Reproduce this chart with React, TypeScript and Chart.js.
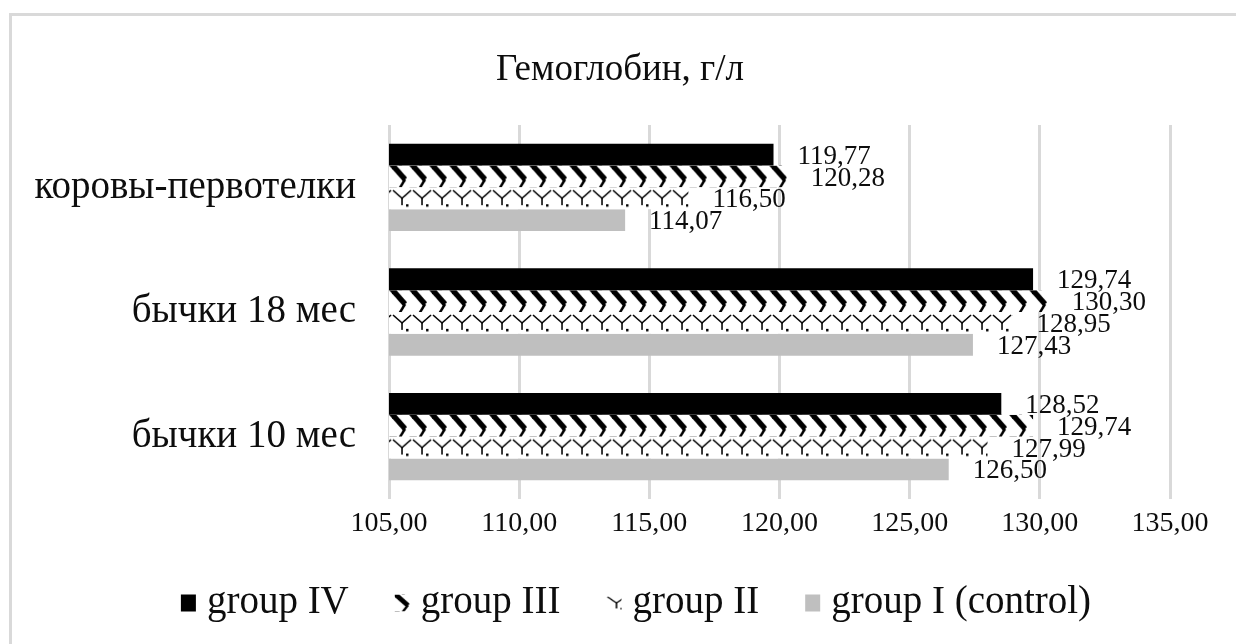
import { useEffect, useRef } from 'react';
import { Chart, registerables } from 'chart.js';

Chart.register(...registerables);

// ---- data ----
const categories = ['коровы-первотелки', 'бычки 18 мес', 'бычки 10 мес'];
const seriesNames = ['group IV', 'group III', 'group II', 'group I (control)'];
const groupIV = [119.77, 129.74, 128.52];
const groupIII = [120.28, 130.3, 129.74];
const groupII = [116.5, 128.95, 127.99];
const groupI = [114.07, 127.43, 126.5];
const axisMin = 105;
const axisMax = 135;
const axisStep = 5;
const chartTitle = 'Гемоглобин, г/л';

// ---- styling ----
const FONT = "'Liberation Serif', 'Times New Roman', serif";
const TEXT = '#0d0d0d';
const GRID = '#d9d9d9';
const CAT_PCT = 0.7;
const TILE_W = 20;
const TILE_H = 22;
const CANVAS_W = 1224;
const CANVAS_H = 628;

const fmt = (v: number) => v.toFixed(2).replace('.', ',');

type Kind = 'chevron' | 'weave';

function drawChevronTile(g: CanvasRenderingContext2D) {
  g.strokeStyle = '#000';
  g.lineCap = 'butt';
  for (const ox of [-TILE_W, 0, TILE_W]) {
    g.lineWidth = 5.5;
    g.beginPath();
    g.moveTo(ox - 1, -2);
    g.lineTo(ox + 13, 14);
    g.stroke();
    g.lineWidth = 2.5;
    g.beginPath();
    g.moveTo(ox + 13, 14);
    g.lineTo(ox + 7, 24);
    g.stroke();
  }
}

function drawWeaveTile(g: CanvasRenderingContext2D) {
  g.strokeStyle = '#000';
  g.fillStyle = '#000';
  g.lineWidth = 1.6;
  for (const ox of [-TILE_W, 0, TILE_W]) {
    g.beginPath();
    g.moveTo(ox + 1, 3);
    g.lineTo(ox + 10, 11);
    g.lineTo(ox + 19, 3);
    g.stroke();
    g.beginPath();
    g.moveTo(ox + 10, 11);
    g.lineTo(ox + 10, 18);
    g.stroke();
    g.fillRect(ox + 14, 17, 2.5, 2.5);
  }
}

const tiles: Partial<Record<Kind, HTMLCanvasElement>> = {};
function tile(kind: Kind) {
  if (tiles[kind]) return tiles[kind]!;
  const c = document.createElement('canvas');
  c.width = TILE_W;
  c.height = TILE_H;
  const g = c.getContext('2d')!;
  g.fillStyle = '#fff';
  g.fillRect(0, 0, TILE_W, TILE_H);
  if (kind === 'chevron') drawChevronTile(g);
  else drawWeaveTile(g);
  tiles[kind] = c;
  return c;
}

function patternAt(ctx: CanvasRenderingContext2D, kind: Kind, x: number, top: number, h: number) {
  const p = ctx.createPattern(tile(kind), 'repeat')!;
  p.setTransform(new DOMMatrix([1, 0, 0, h / TILE_H, x, top]));
  return p;
}

// pattern anchored to the top edge of each bar
const barFill = (kind: Kind, dsIndex: number) => (c: any) => {
  const chart = c.chart;
  const y = chart.scales?.y;
  if (!y || c.type !== 'data') return '#fff';
  const band = y.height / categories.length;
  const h = (band * CAT_PCT) / seriesNames.length;
  const top = y.getPixelForValue(c.dataIndex) - (band * CAT_PCT) / 2 + dsIndex * h;
  return patternAt(chart.ctx, kind, 0, top, h);
};

const legendFill = (ctx: CanvasRenderingContext2D, i: number, x: number, y: number, h: number) => {
  if (i === 0) return '#000';
  if (i === 1) return patternAt(ctx, 'chevron', x, y, h);
  if (i === 2) return patternAt(ctx, 'weave', x, y, h);
  return '#bfbfbf';
};

const overlay = {
  id: 'overlay',
  afterDraw(chart: any) {
    const ctx: CanvasRenderingContext2D = chart.ctx;
    ctx.save();
    ctx.fillStyle = TEXT;

    // title
    ctx.font = `37px ${FONT}`;
    ctx.textAlign = 'center';
    ctx.textBaseline = 'middle';
    ctx.fillText(chartTitle, chart.width / 2 - 4, 54);

    // value labels to the right of each bar
    ctx.font = `27px ${FONT}`;
    ctx.textAlign = 'left';
    chart.data.datasets.forEach((ds: any, di: number) => {
      const meta = chart.getDatasetMeta(di);
      meta.data.forEach((bar: any, i: number) => {
        ctx.fillText(fmt(ds.data[i]), bar.x + 24, bar.y + 2);
      });
    });

    // legend
    ctx.font = `39px ${FONT}`;
    const box = 15;
    const boxH = 17;
    const gap = 11;
    const itemGap = 46;
    const widths = seriesNames.map((n) => ctx.measureText(n).width);
    const total = widths.reduce((a, w) => a + box + gap + w, 0) + itemGap * (seriesNames.length - 1);
    let x = 624 - total / 2;
    const ly = 587;
    seriesNames.forEach((name, i) => {
      ctx.fillStyle = legendFill(ctx, i, x, ly - boxH / 2, boxH) as any;
      ctx.fillRect(x, ly - boxH / 2, box, boxH);
      ctx.fillStyle = TEXT;
      ctx.fillText(name, x + box + gap, ly);
      x += box + gap + widths[i] + itemGap;
    });
    ctx.restore();
  },
};

export default function App() {
  const ref = useRef<HTMLCanvasElement>(null);

  useEffect(() => {
    if (!ref.current) return;
    const chart = new Chart(ref.current, {
      type: 'bar',
      data: {
        labels: categories,
        datasets: [
          { label: seriesNames[0], data: groupIV, backgroundColor: '#000' },
          { label: seriesNames[1], data: groupIII, backgroundColor: barFill('chevron', 1) },
          { label: seriesNames[2], data: groupII, backgroundColor: barFill('weave', 2) },
          { label: seriesNames[3], data: groupI, backgroundColor: '#bfbfbf' },
        ],
      },
      options: {
        indexAxis: 'y',
        responsive: false,
        animation: false,
        devicePixelRatio: 1,
        datasets: { bar: { categoryPercentage: CAT_PCT, barPercentage: 1 } },
        layout: { padding: { top: 109, right: 66, bottom: 95, left: 0 } },
        plugins: { legend: { display: false }, title: { display: false }, tooltip: { enabled: false } },
        scales: {
          x: {
            type: 'linear',
            min: axisMin,
            max: axisMax,
            ticks: {
              stepSize: axisStep,
              callback: (v: any) => fmt(Number(v)),
              font: { family: FONT, size: 28 },
              color: TEXT,
              padding: 8,
              maxRotation: 0,
            },
            grid: { color: GRID, lineWidth: 3, drawTicks: false },
            border: { display: false },
            afterFit: (s: any) => {
              s.height = 50;
            },
          },
          y: {
            type: 'category',
            ticks: { font: { family: FONT, size: 39 }, color: TEXT, padding: 33 },
            grid: { display: false, drawTicks: false },
            border: { display: false },
            afterFit: (s: any) => {
              s.width = 377;
            },
          },
        },
      },
      plugins: [overlay],
    });
    return () => chart.destroy();
  }, []);

  return (
    <div
      style={{
        position: 'absolute',
        left: 9,
        top: 13,
        width: CANVAS_W,
        height: CANVAS_H,
        borderLeft: `3px solid ${GRID}`,
        borderTop: `3px solid ${GRID}`,
        background: '#fff',
      }}
    >
      <canvas ref={ref} width={CANVAS_W} height={CANVAS_H} style={{ display: 'block' }} />
    </div>
  );
}
